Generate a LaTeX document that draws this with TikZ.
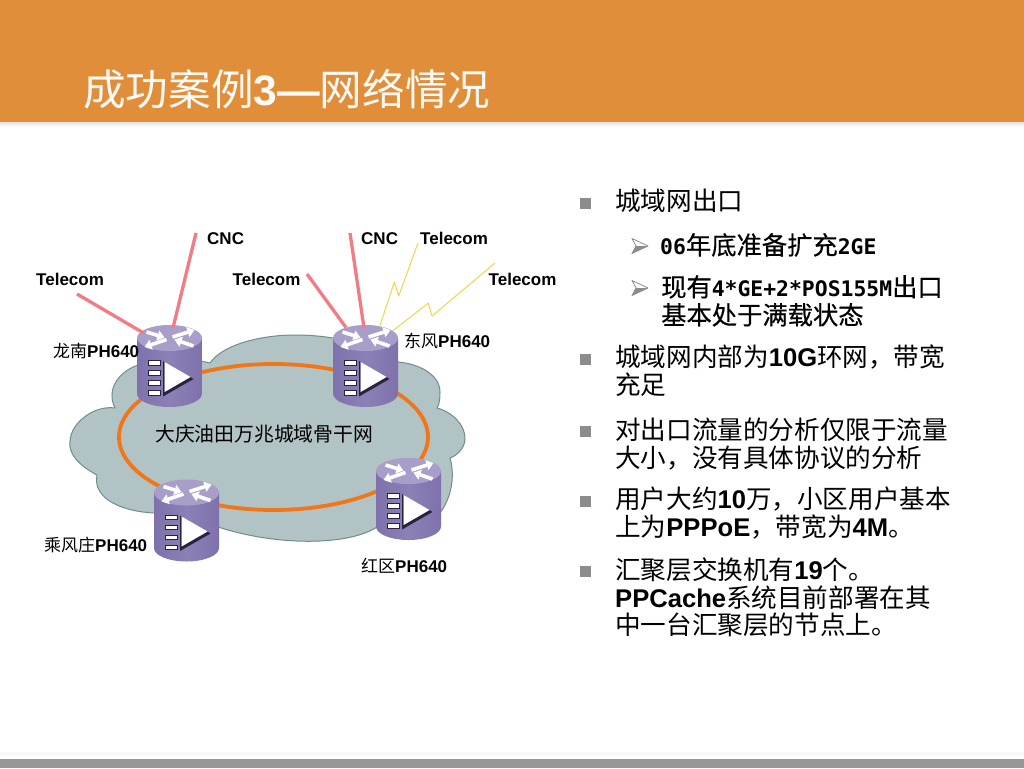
\documentclass[tikz,border=0pt]{standalone}
\usepackage{fontspec}
\usetikzlibrary{shapes.geometric,arrows.meta}
\setmainfont{Noto Sans CJK SC}
\newfontfamily\lbf[BoldFont={Liberation Sans Bold}]{Liberation Sans}
\newfontfamily\cjkb[FakeBold=0.4]{Noto Sans CJK SC}
\newfontfamily\monob{DejaVu Sans Mono Bold}
\newcommand{\lb}[1]{{\lbf\bfseries #1}}
\newcommand{\mb}[1]{{\monob\fontsize{21.4}{27}\selectfont #1}}
\definecolor{headerc}{HTML}{E08E3A}
\definecolor{barc}{HTML}{969696}
\definecolor{cloudc}{HTML}{B1C3C5}
\definecolor{cloude}{HTML}{6E8E8B}
\definecolor{ringc}{HTML}{F0761A}
\definecolor{pinkc}{HTML}{F27C84}
\definecolor{yelc}{HTML}{F2D44A}
\definecolor{rbody}{HTML}{8D80B7}
\definecolor{rbodyd}{HTML}{7F71AB}
\definecolor{rtop}{HTML}{A89EC9}
\definecolor{rdark}{HTML}{2A2340}
\definecolor{bulc}{HTML}{8C8C8C}
\tikzset{
  wan/.style={draw=pinkc,line width=3.3pt},
  radio/.style={draw=yelc,line width=1pt,line join=round},
  lbl/.style={inner sep=0pt,anchor=base west,font=\fontsize{17}{18}\selectfont},
  body/.style={inner sep=0pt,anchor=north west,align=left,font=\fontsize{25.6}{27.2}\selectfont},
  subbody/.style={inner sep=0pt,anchor=north west,align=left,font=\fontsize{25.3}{28}\selectfont\cjkb},
  sq/.style={fill=bulc,draw=none,minimum size=11pt,inner sep=0pt},
  portbar/.style={fill=white,draw=rdark,line width=1.3pt},
  xarrow/.style={draw=white,line width=3.6pt,-{Triangle[length=7pt,width=10pt]}}
}
\newcommand{\router}[3]{%
  \begin{scope}[shift={(#2,#3)}]
    \coordinate (#1-top) at (3.5,-38);
    \coordinate (#1-nw) at (-26,-33);
    \coordinate (#1-nv) at (-19.5,-38.5);
    \coordinate (#1-nn) at (-1.5,-38);
    \coordinate (#1-ne) at (14,-39);
    \coordinate (#1-nf) at (27,-35);
    \path[left color=rbodyd,right color=rbodyd,middle color=rbody]
      (-32.5,-28) -- (-32.5,27.5) arc[start angle=180,end angle=0,x radius=32.5,y radius=13.5]
      -- (32.5,-28) -- cycle;
    \fill[rtop] (0,-28) ellipse[x radius=32.5,y radius=13];
    \draw[xarrow] (-23,-34) -- (-5,-28.5);
    \draw[xarrow] (3,-29) -- (25,-36);
    \draw[xarrow] (-3,-26.5) -- (-25,-19);
    \draw[xarrow] (24,-20) -- (5,-26.5);
    \foreach \yy in {-3,7,17,27}
      \draw[portbar] (-21,\yy-2.3) rectangle (-9,\yy+2.3);
    \fill[rdark] (-6.5,-5) -- (-5,-4) -- (-5,26) -- (21,11) -- (24,13) -- (-6.5,30.5) -- cycle;
    \fill[white] (-5,-4) -- (21,11) -- (-5,26) -- cycle;
  \end{scope}}
\begin{document}
\begin{tikzpicture}[x=1pt,y=-1pt]
\useasboundingbox (0,0) rectangle (1024,768);
\fill[white] (0,0) rectangle (1024,768);
% header and footer
\shade[top color=black!12,bottom color=white] (0,121) rectangle (1024,127);
\fill[headerc] (0,0) rectangle (1024,121.5);
\fill[black!3] (0,752) rectangle (1024,755);
\fill[barc] (0,758.5) rectangle (1024,768);
\node[inner sep=0pt,anchor=base west,text=white!96!orange,font=\fontsize{42.6}{44}\selectfont] (title) at (83,105)
  {成功案例\lb{3—}网络情况};
% cloud
\filldraw[fill=cloudc,draw=cloude,line width=1pt,line join=round]
  (210,363) .. controls (222,345) and (260,335) .. (295,335)
  .. controls (335,335) and (375,345) .. (398,362)
  .. controls (420,364) and (440,375) .. (440,392)
  .. controls (440,400) and (439,405) .. (437,408)
  .. controls (452,412) and (466,425) .. (465,440)
  .. controls (464,448) and (458,455) .. (450,458)
  .. controls (455,475) and (452,497) .. (440,513)
  .. controls (425,525) and (395,530) .. (377,527)
  .. controls (350,545) and (280,547) .. (218,527)
  .. controls (200,520) and (170,515) .. (155,513)
  .. controls (125,512) and (92,500) .. (97,475)
  .. controls (78,465) and (68,453) .. (70,441)
  .. controls (71,422) and (95,405) .. (115,408)
  .. controls (106,390) and (118,372) .. (138,365)
  .. controls (160,358) and (190,358) .. (210,363) -- cycle;
\node[ellipse,draw=ringc,line width=3.8pt,minimum width=309pt,minimum height=146pt,inner sep=0pt] (ring) at (273.5,437) {};
% free ends of connectors
\coordinate (cncA) at (196,233);
\coordinate (telA) at (77,294);
\coordinate (cncB) at (350,233);
\coordinate (telB) at (307,274);
\coordinate (telC) at (418,243);
\coordinate (telD) at (495,263);
% routers
\router{ra}{169.5}{366}
\router{rb}{365.5}{366}
\router{rc}{186.5}{520.5}
\router{rd}{408.5}{499}
% connectors
\draw[wan] (cncA) -- (ra-top);
\draw[wan] (telA) -- (ra-nw);
\draw[wan] (cncB) -- (rb-nn);
\draw[wan] (telB) -- (rb-nv);
\draw[radio] (telC) -- (398.7,296) -- (394.3,282) -- (rb-ne);
\draw[radio] (telD) -- (432,316) -- (428.3,303) -- (rb-nf);
% labels
\node[lbl] (l1) at (207,244) {\lb{CNC}};
\node[lbl] (l2) at (361,244) {\lb{CNC}};
\node[lbl] (l3) at (420,244) {\lb{Telecom}};
\node[lbl] (l4) at (36,285) {\lb{Telecom}};
\node[lbl] (l5) at (232.5,285) {\lb{Telecom}};
\node[lbl] (l6) at (488.5,285) {\lb{Telecom}};
\node[lbl] (n1) at (53,357) {龙南\lb{PH640}};
\node[lbl] (n2) at (404,347) {东风\lb{PH640}};
\node[lbl] (n3) at (44,551) {乘风庄\lb{PH640}};
\node[lbl] (n4) at (361,572) {红区\lb{PH640}};
\node[lbl,font=\fontsize{19.8}{22}\selectfont] (cn) at (155,441) {大庆油田万兆城域骨干网};
% bullets
\foreach \n/\yy in {b1/203,b2/359,b3/431,b4/501,b5/571}
  \node[sq] (\n) at (585,\yy) {};
\foreach \yy in {246,288}{
  \fill[bulc] (632,\yy+7.5) -- (648,\yy) -- (636,\yy) -- cycle;
  \draw[bulc,line width=.8pt,line join=round] (632,\yy-7.5) -- (648,\yy) -- (632,\yy+7.5) -- (636,\yy) -- cycle;
}
% body text
\node[body] (t1) at (615,189) {城域网出口};
\node[subbody] (t2) at (660,233) {\mb{06}年底准备扩充\mb{2GE}};
\node[subbody] (t3) at (661,275) {现有\mb{4*GE+2*POS155M}出口\\基本处于满载状态};
\node[body] (t4) at (615,345) {城域网内部为\lb{10G}环网，带宽\\充足};
\node[body] (t5) at (615,418) {对出口流量的分析仅限于流量\\大小，没有具体协议的分析};
\node[body] (t6) at (615,487) {用户大约\lb{10}万，小区用户基本\\上为\lb{PPPoE}，带宽为\lb{4M}。};
\node[body] (t7) at (615,558) {汇聚层交换机有\lb{19}个。\\\lb{PPCache}系统目前部署在其\\中一台汇聚层的节点上。};
\end{tikzpicture}
\end{document}
